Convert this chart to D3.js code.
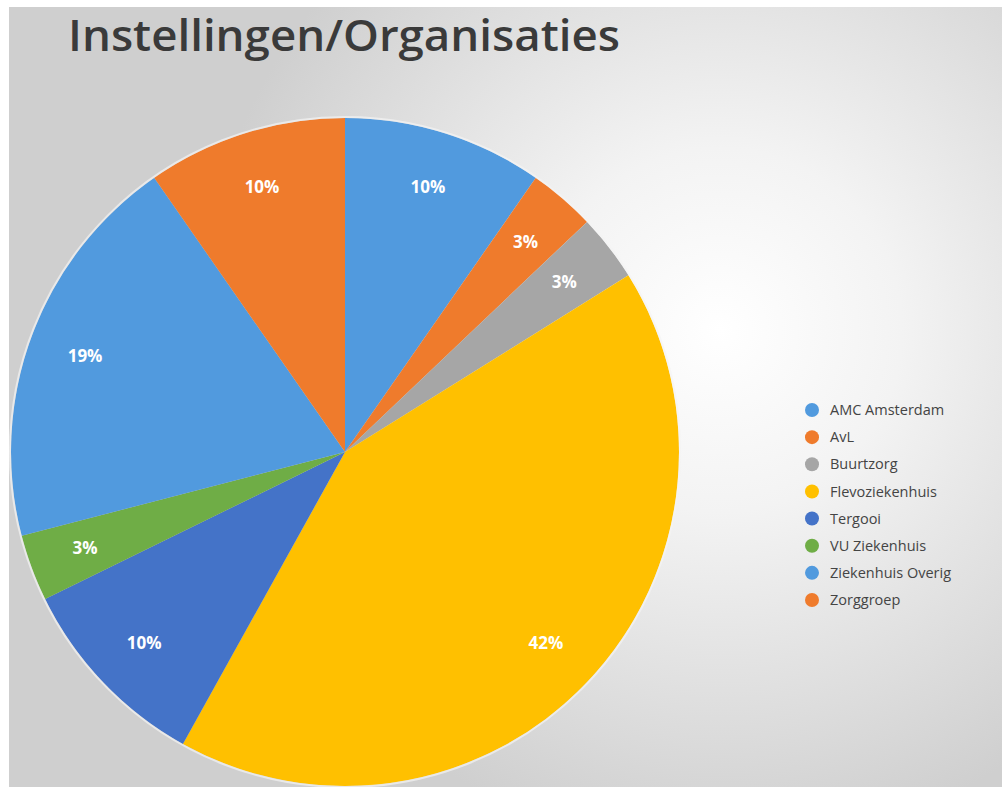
<!DOCTYPE html>
<html><head><meta charset="utf-8">
<script src="https://cdn.jsdelivr.net/npm/d3@7"></script>
<style>html,body{margin:0;padding:0;background:#fff;overflow:hidden}</style>
</head><body>
<script>
const title = "Instellingen/Organisaties";
const categories = ["AMC Amsterdam","AvL","Buurtzorg","Flevoziekenhuis","Tergooi","VU Ziekenhuis","Ziekenhuis Overig","Zorggroep"];
const counts = [3,1,1,13,3,1,6,3];
const labels = ["10%","3%","3%","42%","10%","3%","19%","10%"];
const colors = ["#519ade","#ef7b2c","#a6a6a6","#ffc000","#4473c8","#6fad46","#519ade","#ef7b2c"];

const W = 1002, H = 787;
const svg = d3.select("body").append("svg").attr("width", W).attr("height", H);
const defs = svg.append("defs");
const rg = defs.append("radialGradient").attr("id","bg").attr("gradientUnits","userSpaceOnUse")
  .attr("cx",720).attr("cy",330).attr("r",520);
rg.append("stop").attr("offset","0").attr("stop-color","#ffffff");
rg.append("stop").attr("offset","0.35").attr("stop-color","#f3f3f3");
rg.append("stop").attr("offset","1").attr("stop-color","#cfcfcf");
svg.append("rect").attr("x",9).attr("y",7).attr("width",W-9).attr("height",H-7).attr("fill","url(#bg)");

svg.append("text").attr("x",68).attr("y",51).text(title)
  .attr("font-family","'Open Sans', 'DejaVu Sans', sans-serif").attr("font-size",44).attr("font-weight",600)
  .attr("fill","#3a3a3a").attr("textLength",552).attr("lengthAdjust","spacingAndGlyphs");

const cx = 345, cy = 452, r = 334;
const clip = defs.append("clipPath").attr("id","clip");
clip.append("rect").attr("x",9).attr("y",7).attr("width",W-9).attr("height",H-7);
const g = svg.append("g").attr("clip-path","url(#clip)").append("g").attr("transform",`translate(${cx},${cy})`);
const pie = d3.pie().sort(null).value(d=>d);
const arcs = pie(counts);
const arc = d3.arc().innerRadius(0).outerRadius(r);
const labelArc = d3.arc().innerRadius(r*0.83).outerRadius(r*0.83);
g.selectAll("path").data(arcs).join("path").attr("d",arc).attr("fill",(d,i)=>colors[i]);
g.append("circle").attr("r",r+1).attr("fill","none").attr("stroke","#f4f4f4").attr("stroke-width",2).attr("opacity",0.7);
g.selectAll("text").data(arcs).join("text")
  .attr("transform",d=>`translate(${labelArc.centroid(d)})`)
  .attr("text-anchor","middle").attr("dy","0.35em")
  .attr("font-family","'Open Sans', sans-serif").attr("font-weight",700).attr("font-size",17)
  .attr("fill","#ffffff").text((d,i)=>labels[i]);

const lg = svg.append("g").attr("transform","translate(812,410)");
const ly = d3.scalePoint().domain(categories).range([0,190]);
const items = lg.selectAll("g").data(categories).join("g").attr("transform",d=>`translate(0,${ly(d)})`);
items.append("circle").attr("r",7).attr("fill",(d,i)=>colors[i]);
items.append("text").attr("x",18).attr("dy","0.35em").text(d=>d)
  .attr("font-family","'Open Sans', sans-serif").attr("font-size",14.5).attr("fill","#444");
</script>
</body></html>
